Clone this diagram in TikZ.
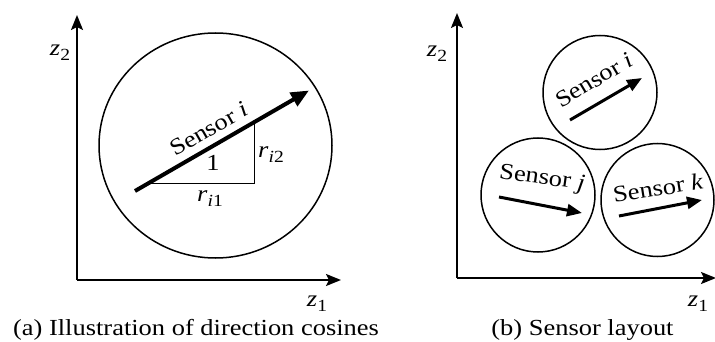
\documentclass[tikz,border=0pt]{standalone}
\usepackage{fontspec}
\setmainfont{Liberation Serif}[FakeStretch=1.15]
\usetikzlibrary{arrows.meta,shapes.geometric}
\newcommand{\lowsub}[1]{\raisebox{-5pt}{\fontsize{17}{20}\selectfont #1}}
\begin{document}
\begin{tikzpicture}[x=1pt,y=-1pt,
  every node/.style={font=\fontsize{23}{27}\selectfont, inner sep=0pt},
  axis/.style={line width=2pt, -{Stealth[length=15pt,width=12pt,inset=3pt]}},
  bigvec/.style={line width=4pt, -{Triangle[length=18pt,width=15pt]}},
  smallvec/.style={line width=3pt, -{Triangle[length=15pt,width=12pt]}},
  ring/.style={draw, line width=1.5pt, inner sep=0pt},
  thin/.style={line width=1pt}]
\useasboundingbox (0,0) rectangle (715,342);
% ---------- panel (a)
\coordinate (aO) at (77,280);
\coordinate (aY) at (77,15);
\coordinate (aX) at (341,280);
\draw[axis] (aO) -- (aY);
\draw[axis] (aO) -- (aX);
\node (z2a) at (60,53) {\textit{z}\lowsub{2}};
\node (z1a) at (317,304) {\textit{z}\lowsub{1}};
\node[ring, ellipse, minimum width=233pt, minimum height=225pt] (circA) at (215.5,145.5) {};
\coordinate (vS) at (135,191);
\coordinate (vE) at (309,90.5);
\coordinate (tA) at (148.8,183);
\coordinate (tB) at (254,183);
\coordinate (tC) at (254,122.2);
\draw[thin] (tA) -- (tB) -- (tC);
\draw[bigvec] (vS) -- (vE);
\node[rotate=30] (labA) at (209,129) {Sensor \textit{i}};
\node (one) at (213,163) {1};
\node (ri2) at (271,155) {\textit{r}\lowsub{\textit{i}2}};
\node (ri1) at (210,199) {\textit{r}\lowsub{\textit{i}1}};
\node[anchor=base] (capA) at (196,335) {(a) Illustration of direction cosines};
% ---------- panel (b)
\coordinate (bO) at (457,278);
\coordinate (bY) at (457,13);
\coordinate (bX) at (716,278);
\draw[axis] (bO) -- (bY);
\draw[axis] (bO) -- (bX);
\node (z2b) at (437,54) {\textit{z}\lowsub{2}};
\node (z1b) at (698,304) {\textit{z}\lowsub{1}};
\node[ring, circle, minimum size=114pt] (ci) at (600,92.5) {};
\node[ring, circle, minimum size=114pt] (cj) at (538,195) {};
\node[ring, circle, minimum size=113pt] (ck) at (657.5,200) {};
\coordinate (iS) at (570,120);
\coordinate (iE) at (642,78);
\coordinate (jS) at (499,197);
\coordinate (jE) at (582,213);
\coordinate (kS) at (619,216);
\coordinate (kE) at (702,200);
\draw[smallvec] (iS) -- (iE);
\draw[smallvec] (jS) -- (jE);
\draw[smallvec] (kS) -- (kE);
\node[rotate=31] (li) at (594,80) {Sensor \textit{i}};
\node[rotate=-8] (lj) at (542,179) {Sensor \textit{j}};
\node[rotate=9] (lk) at (658,188) {Sensor \textit{k}};
\node[anchor=base] (capB) at (582.5,335) {(b) Sensor layout};
\end{tikzpicture}
\end{document}
